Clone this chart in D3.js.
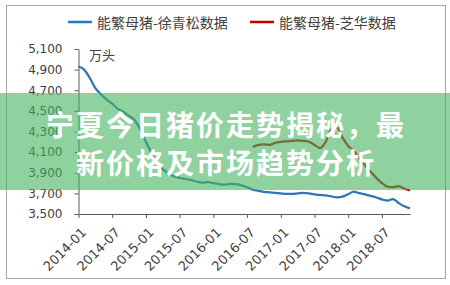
<!DOCTYPE html>
<html>
<head>
<meta charset="utf-8">
<script src="https://cdn.jsdelivr.net/npm/d3@7"></script>
<style>
  body { margin: 0; background: #fff; }
</style>
</head>
<body>
<script>
// monthly categories 2014-01 .. 2018-12
let months = d3.utcMonth.range(new Date(Date.UTC(2014, 0, 1)), new Date(Date.UTC(2019, 0, 1)))
  .map(d3.utcFormat('%Y-%m'));

let xTickLabels = ['2014-01', '2014-07', '2015-01', '2015-07', '2016-01', '2016-07',
                   '2017-01', '2017-07', '2018-01', '2018-07'];

let yTicks = [3500, 3700, 3900, 4100, 4300, 4500, 4700, 4900, 5100];

let seriesNames = ['能繁母猪-徐青松数据', '能繁母猪-芝华数据'];

// 徐青松数据, 2014-01 .. 2018-12
let xuValues = [4930, 4900, 4820, 4720, 4660, 4610, 4570, 4520, 4490, 4450,
                4410, 4320, 4200, 4090, 3990, 3935, 3890, 3865, 3850, 3840,
                3830, 3815, 3805, 3808, 3800, 3790, 3785, 3792, 3790, 3778,
                3760, 3735, 3725, 3715, 3710, 3705, 3700, 3695, 3695, 3700,
                3705, 3700, 3690, 3685, 3680, 3670, 3662, 3668, 3692, 3718,
                3702, 3690, 3675, 3660, 3642, 3630, 3645, 3605, 3575, 3555];

// 芝华数据, 2016-08 .. 2018-12
let zhStart = '2016-08';
let zhValues = [4150, 4170, 4175, 4170, 4190, 4200, 4205, 4210, 4215, 4210,
                4200, 4170, 4140, 4200, 4320, 4340, 4240, 4160, 4110, 4040,
                3970, 3910, 3850, 3800, 3765, 3760, 3770, 3745, 3730];

let bannerLines = ['宁夏今日猪价走势揭秘，最', '新价格及市场趋势分析'];

let width = 450, height = 285;
let colors = ['#2e75b6', '#c00000'];

let svg = d3.select('body').append('svg')
  .attr('width', width)
  .attr('height', height)
  .style('display', 'block');

svg.append('rect')
  .attr('x', 6.5).attr('y', 5.5)
  .attr('width', 439).attr('height', 273)
  .attr('fill', '#fff')
  .attr('stroke', '#a6a6a6');

let xScale = d3.scalePoint().domain(months).range([78.5, 410]);
let yScale = d3.scaleLinear().domain([3500, 5100]).range([214, 49]);

// y axis
let yAxis = svg.append('g')
  .attr('transform', 'translate(78.5,0)')
  .call(d3.axisLeft(yScale).tickValues(yTicks).tickFormat(d3.format(','))
    .tickSize(4).tickSizeOuter(0).tickPadding(12));
yAxis.select('.domain').attr('stroke', '#595959');
yAxis.selectAll('.tick line').attr('stroke', '#595959');
yAxis.selectAll('text')
  .attr('fill', '#404040')
  .style('font-family', '"DejaVu Sans", sans-serif')
  .style('font-size', '12px');

// x axis
let xAxis = svg.append('g')
  .attr('transform', 'translate(0,214)')
  .call(d3.axisBottom(xScale).tickValues(xTickLabels).tickSize(4).tickSizeOuter(0));
xAxis.select('.domain').attr('stroke', '#595959');
xAxis.selectAll('.tick line').attr('stroke', '#595959');
xAxis.selectAll('text')
  .attr('fill', '#404040')
  .style('font-family', '"DejaVu Sans", sans-serif')
  .style('font-size', '13px')
  .attr('text-anchor', 'end')
  .attr('dy', '0.35em')
  .attr('y', 0)
  .attr('transform', 'translate(5,16) rotate(-45)');

svg.append('text')
  .attr('x', 89).attr('y', 54)
  .attr('dominant-baseline', 'central')
  .style('font-family', '"Noto Sans CJK SC", sans-serif')
  .style('font-size', '13px')
  .attr('fill', '#404040')
  .text('万头');

// lines
let line = d3.line()
  .x(d => xScale(d.m))
  .y(d => yScale(d.v))
  .curve(d3.curveMonotoneX);

let xuData = xuValues.map((v, i) => ({ m: months[i], v: v }));
let s0 = months.indexOf(zhStart);
let zhData = zhValues.map((v, i) => ({ m: months[s0 + i], v: v }));

svg.append('path')
  .datum(zhData)
  .attr('d', line)
  .attr('fill', 'none')
  .attr('stroke', colors[1])
  .attr('stroke-width', 2.25);

svg.append('path')
  .datum(xuData)
  .attr('d', line)
  .attr('fill', 'none')
  .attr('stroke', colors[0])
  .attr('stroke-width', 2.25);

// legend
let legendX = [68, 250];
let legend = svg.selectAll('.legend-item')
  .data(seriesNames)
  .enter().append('g')
  .attr('class', 'legend-item')
  .attr('transform', (d, i) => `translate(${legendX[i]},22)`);

legend.append('line')
  .attr('x1', 0).attr('x2', 24)
  .attr('stroke', (d, i) => colors[i])
  .attr('stroke-width', 2.5);

legend.append('text')
  .attr('x', 29)
  .attr('dominant-baseline', 'central')
  .style('font-family', '"Noto Sans CJK SC", sans-serif')
  .style('font-size', '14px')
  .attr('fill', '#404040')
  .text(d => d);

// green banner over the chart
svg.append('rect')
  .attr('x', 0).attr('y', 93)
  .attr('width', width).attr('height', 97)
  .attr('fill', 'rgb(70,180,95)')
  .attr('fill-opacity', 0.6);

svg.selectAll('.banner')
  .data(bannerLines)
  .enter().append('text')
  .attr('class', 'banner')
  .attr('x', 226)
  .attr('y', (d, i) => 124 + i * 38)
  .attr('text-anchor', 'middle')
  .attr('dominant-baseline', 'central')
  .style('font-family', '"Noto Sans CJK SC", sans-serif')
  .style('font-size', '28px')
  .style('font-weight', 'bold')
  .style('letter-spacing', '2px')
  .attr('fill', '#fff')
  .text(d => d);
</script>
</body>
</html>
